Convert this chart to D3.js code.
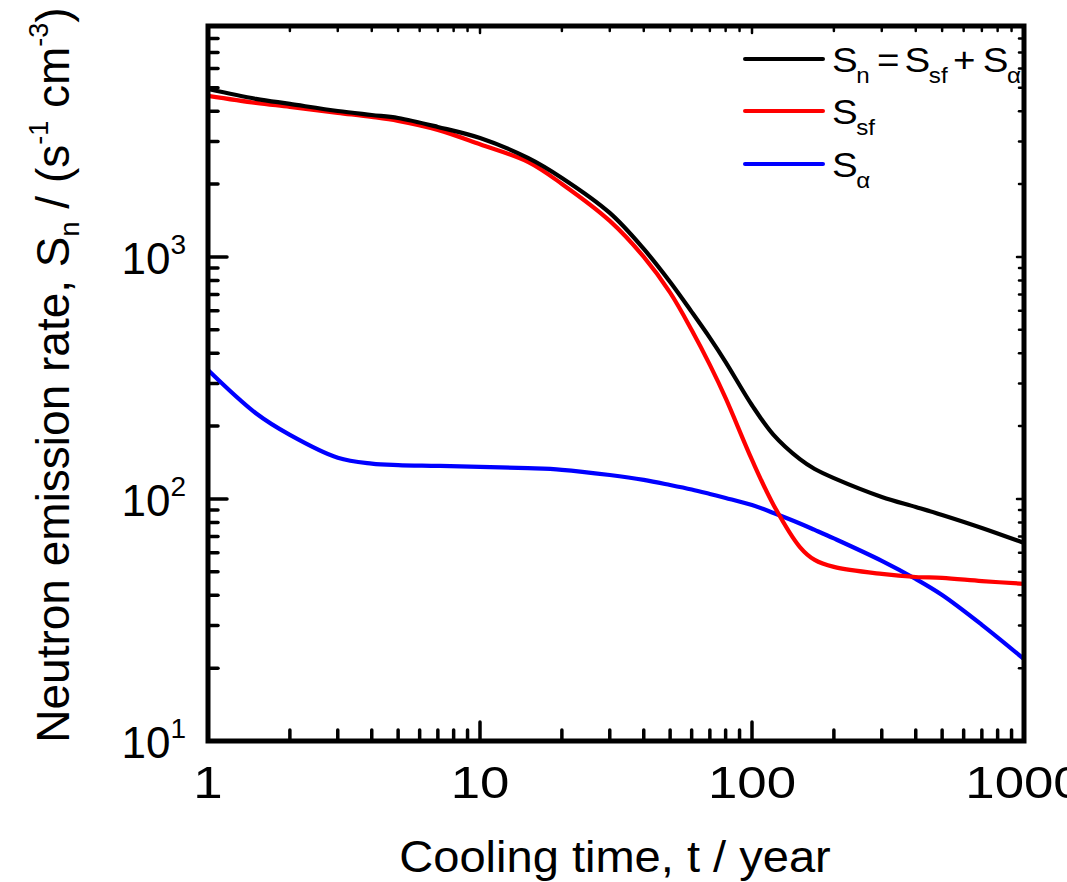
<!DOCTYPE html>
<html><head><meta charset="utf-8">
<script src="https://cdn.jsdelivr.net/npm/d3@7"></script>
<style>
body{margin:0;background:#fff}
text{font-family:"Liberation Sans",Arial,sans-serif;fill:#000}
</style>
</head><body>
<svg id="c" width="1067" height="882"></svg>
<script>
// ---- data ----
const years  = [1,1.5,2,3,4,5,7,10,15,20,30,40,50,60,70,80,100,120,150,170,200,300,400,500,700,1000];
const sTotal = [4940,4500,4290,4010,3860,3750,3445,3100,2566,2120,1520,1079,788,593,463,368,244,184,146,133,122,102,92.7,85.9,75.9,65.8];
const sSf    = [4630,4330,4170,3940,3790,3650,3350,2920,2470,2003,1409,1000,712,499,358,261,145,94.5,63.3,56,52.4,49,47.6,47.2,45.8,44.6];
const sAlpha = [341,226,184,148,140,138,137,135.6,134,132,125.6,119.9,114.2,109.4,104.9,101,94.4,87.5,79.2,74.5,68.7,55.5,46.7,40.1,30.2,21.8];
const xTickValues = [1,10,100,1000];
const xTickLabels = ["1","10","100","1000"];
const yTickValues = [10,100,1000];
const yTickExps   = ["1","2","3"];
const seriesColors = ["#000000","#ff0000","#0000ff"];

// ---- layout ----
const L = 208, R = 1024, T = 26, B = 741;
const svg = d3.select("#c");
const x = d3.scaleLog().domain([1,1000]).range([L,R]);
const y = d3.scaleLog().domain([10,9000]).range([B,T]);

// minor ticks
const xMinor = [], yMinor = [];
for (let d = 1; d < 1000; d *= 10) for (let k = 2; k <= 9; k++) xMinor.push(d*k);
for (let d = 10; d < 10000; d *= 10) for (let k = 2; k <= 9; k++) if (d*k <= 9000) yMinor.push(d*k);

const tickG = svg.append("g").attr("stroke","#000").attr("stroke-width",3.5).attr("stroke-linecap","round");
tickG.selectAll(".bmin").data(xMinor).join("line").attr("x1",d=>x(d)).attr("x2",d=>x(d)).attr("y1",B).attr("y2",B-11);
tickG.selectAll(".bmaj").data(xTickValues).join("line").attr("x1",d=>x(d)).attr("x2",d=>x(d)).attr("y1",B).attr("y2",B-19);
tickG.selectAll(".tmin").data(xMinor).join("line").attr("x1",d=>x(d)).attr("x2",d=>x(d)).attr("y1",T).attr("y2",T+5).attr("stroke-width",2.5);
tickG.selectAll(".tmaj").data(xTickValues).join("line").attr("x1",d=>x(d)).attr("x2",d=>x(d)).attr("y1",T).attr("y2",T+7).attr("stroke-width",2.5);
tickG.selectAll(".lmin").data(yMinor).join("line").attr("y1",d=>y(d)).attr("y2",d=>y(d)).attr("x1",L).attr("x2",L+10);
tickG.selectAll(".lmaj").data(yTickValues).join("line").attr("y1",d=>y(d)).attr("y2",d=>y(d)).attr("x1",L).attr("x2",L+19);
tickG.selectAll(".rmin").data(yMinor).join("line").attr("y1",d=>y(d)).attr("y2",d=>y(d)).attr("x1",R).attr("x2",R-5).attr("stroke-width",2.5);
tickG.selectAll(".rmaj").data(yTickValues).join("line").attr("y1",d=>y(d)).attr("y2",d=>y(d)).attr("x1",R).attr("x2",R-7).attr("stroke-width",2.5);

// curves
const series = [sTotal, sSf, sAlpha];
const line = d3.line().x((d,i)=>x(years[i])).y(d=>y(d)).curve(d3.curveCatmullRom.alpha(0.5));
svg.append("g").selectAll("path").data([2,1,0]).join("path")
  .attr("d", k => line(series[k]))
  .attr("fill","none").attr("stroke", k => seriesColors[k]).attr("stroke-width",4.2).attr("stroke-linejoin","round");

// frame
svg.append("rect").attr("x",L).attr("y",T).attr("width",R-L).attr("height",B-T)
  .attr("fill","none").attr("stroke","#000").attr("stroke-width",5);

// x tick labels (horizontally stretched like the reference)
svg.append("g").selectAll("text").data(xTickValues).join("text")
  .attr("transform",d=>`translate(${x(d)},798) scale(1.2,1)`)
  .attr("text-anchor","middle").attr("font-size",44)
  .text((d,i)=>xTickLabels[i]);

// y tick labels
const yl = svg.append("g").selectAll("text").data(yTickValues).join("text")
  .attr("x",186).attr("y",d=>y(d)+17).attr("text-anchor","end").attr("font-size",44);
yl.append("tspan").text("10");
yl.append("tspan").attr("font-size",28).attr("dy",-20).text((d,i)=>yTickExps[i]);

// x title
svg.append("text").attr("transform","translate(615,872) scale(1.07,1)")
  .attr("text-anchor","middle").attr("font-size",44)
  .text("Cooling time, t / year");

// y title
const yt = svg.append("text").attr("transform","translate(69,375) rotate(-90)")
  .attr("text-anchor","middle").attr("font-size",46);
yt.append("tspan").text("Neutron emission rate, S");
yt.append("tspan").attr("font-size",27).attr("dy",10).text("n");
yt.append("tspan").attr("dy",-10).text(" / (s");
yt.append("tspan").attr("font-size",27).attr("dy",-21).text("-1");
yt.append("tspan").attr("dy",21).text(" cm");
yt.append("tspan").attr("font-size",27).attr("dy",-21).text("-3");
yt.append("tspan").attr("dy",21).text(")");

// legend
const legY = [59,111,164];
const lg = svg.append("g");
lg.selectAll("line").data([0,1,2]).join("line")
  .attr("x1",745).attr("x2",823).attr("y1",k=>legY[k]).attr("y2",k=>legY[k])
  .attr("stroke",k=>seriesColors[k]).attr("stroke-width",4).attr("stroke-linecap","round");
// [text, isSub, local x]
const legendParts = [
  [["S",0,0],["n",1,22],["=",0,41],["S",0,66],["sf",1,88],["+",0,110],["S",0,137],["α",1,159]],
  [["S",0,0],["sf",1,22]],
  [["S",0,0],["α",1,22]]
];
[0,1,2].forEach(k=>{
  const t = lg.append("text").attr("transform",`translate(832,${legY[k]+13}) scale(1.1,1)`);
  legendParts[k].forEach(([s,sub,lx])=>{
    t.append("tspan").attr("x",lx).attr("y",sub?11:0).attr("font-size",sub?22:35).text(s);
  });
});
</script>
</body></html>
